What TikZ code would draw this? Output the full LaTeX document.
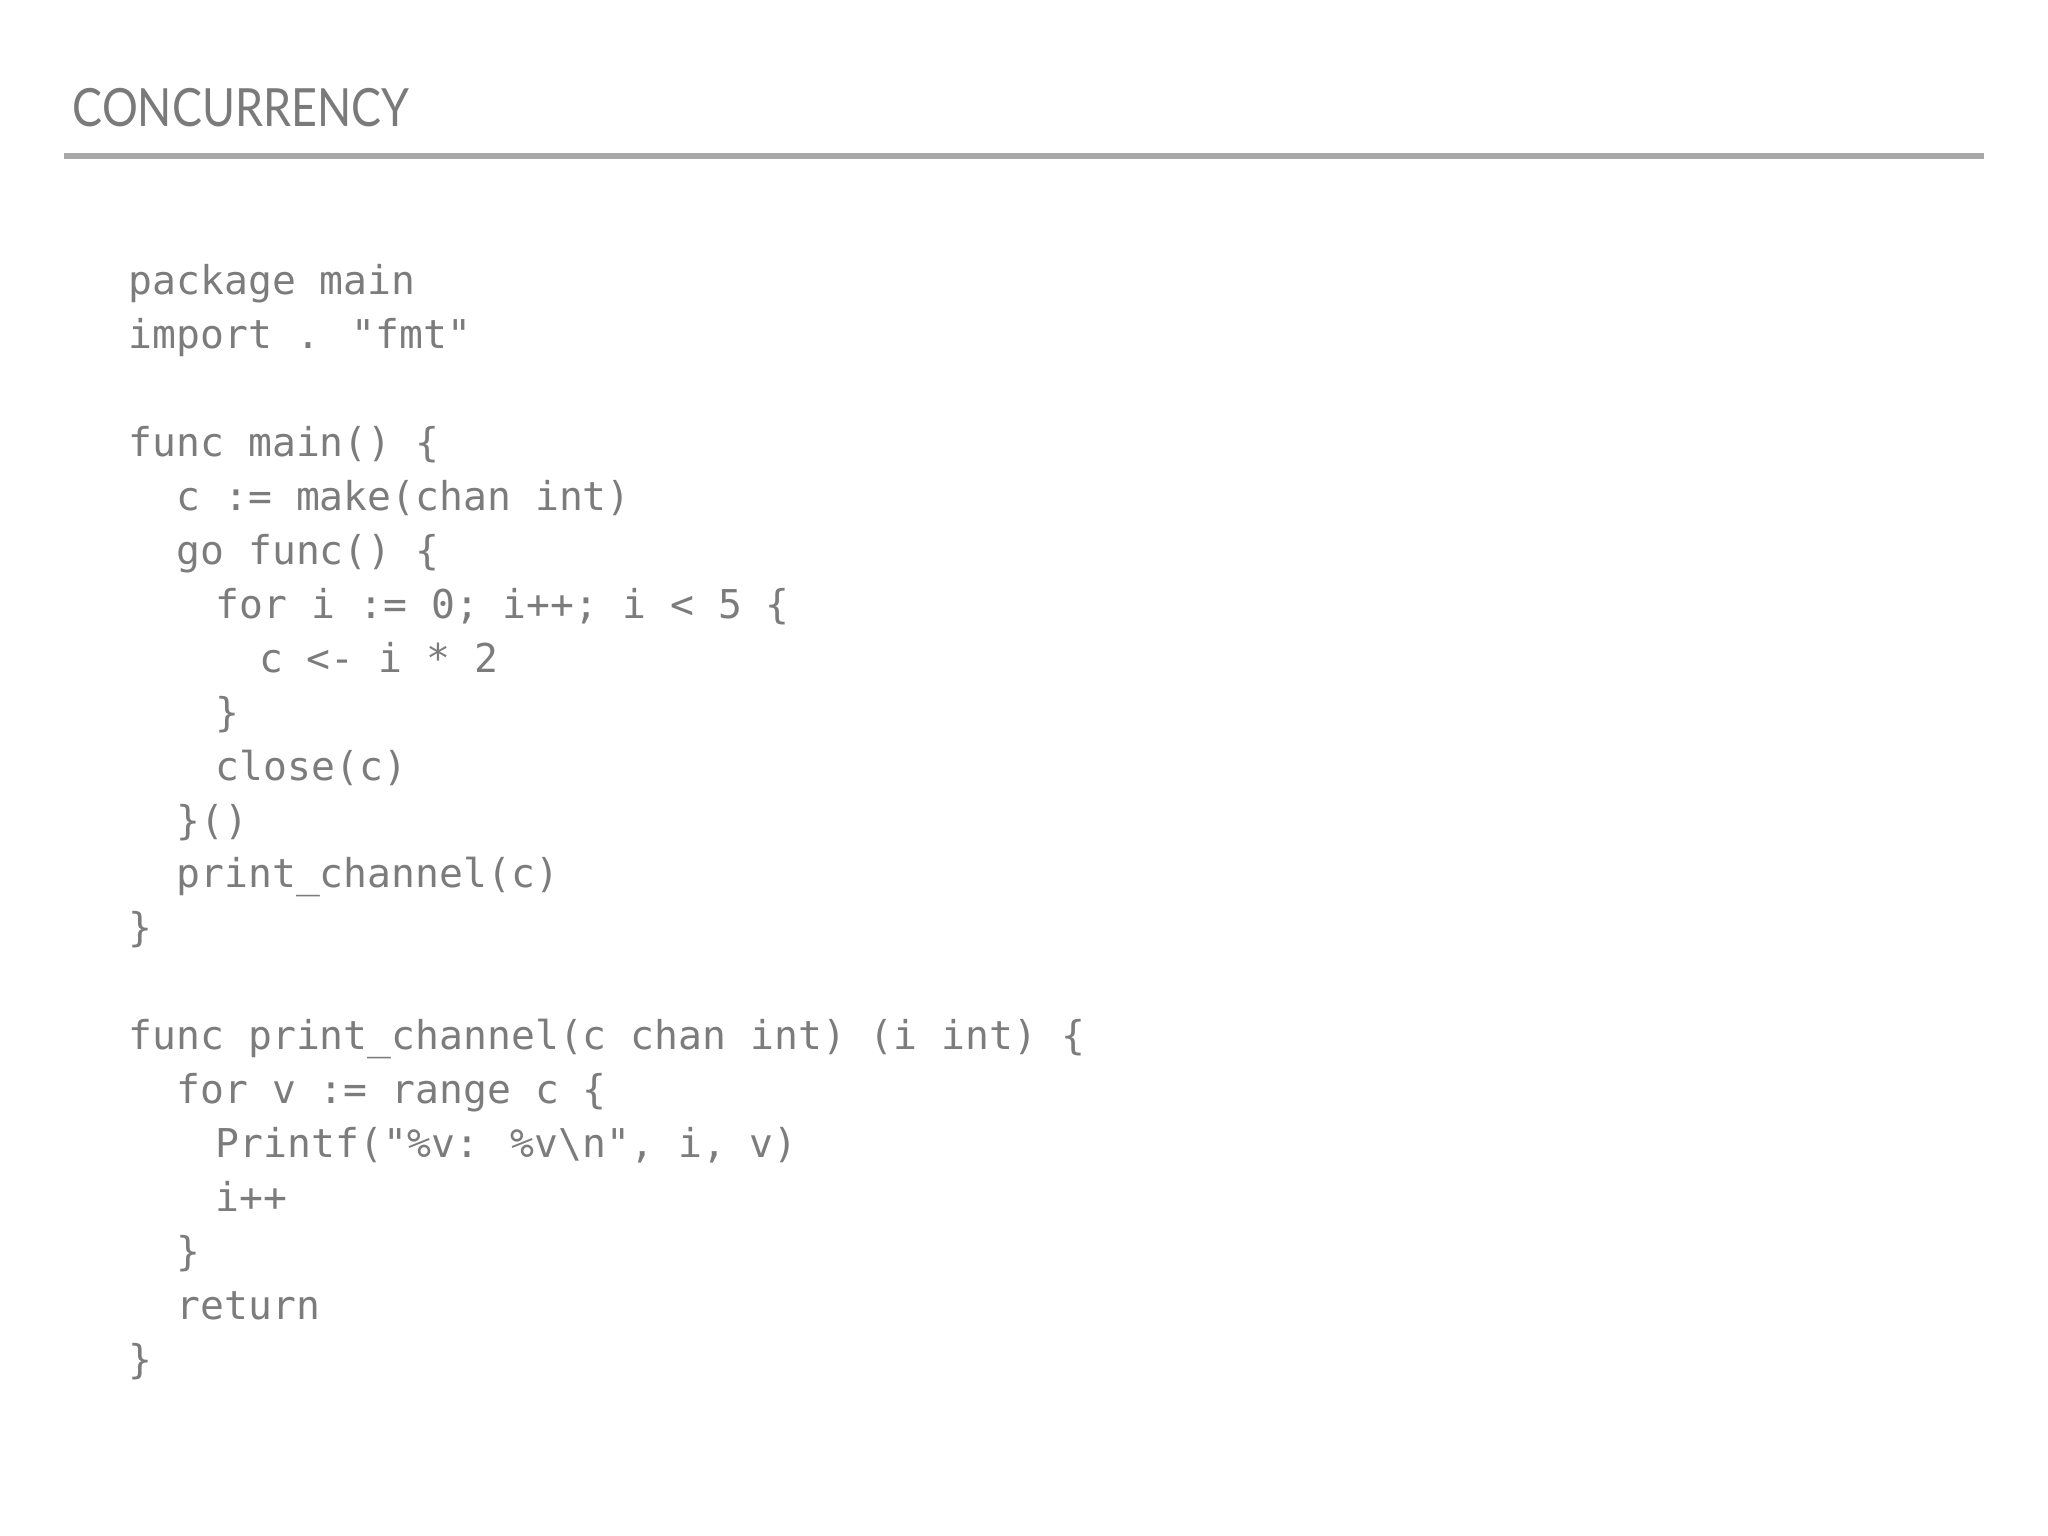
\documentclass[tikz,border=0pt]{standalone}
\usepackage{fontspec}
\setmainfont{Lato}
\newfontfamily\codefont[WordSpace={1,0,0}]{DejaVu Sans Mono}
\definecolor{titlegray}{HTML}{7A7A7A}
\definecolor{rulegray}{HTML}{A8A8A8}
\definecolor{codegray}{HTML}{7C7C7C}
\begin{document}
\begin{tikzpicture}[x=1cm,y=1cm,
  codeline/.style={anchor=base west,inner sep=0pt,text=codegray,font=\codefont\fontsize{11.3pt}{13pt}\selectfont},
  titletext/.style={anchor=base west,inner sep=0pt,text=titlegray,font=\fontsize{15pt}{18pt}\selectfont}]
\useasboundingbox (0,0) rectangle (20.48,-15.36);
\node[titletext] (title) at (0.72,-1.27) {\scalebox{0.85}[1]{CONCURRENCY}};
\coordinate (rl) at (0.64,-1.56);
\coordinate (rr) at (19.84,-1.56);
\draw[rulegray,line width=1.6pt] (rl) -- (rr);
\def\L#1#2#3{\node[codeline] (#1) at (1.28,{-2.95-0.539*#2}) {#3};}
\def\I#1{\hspace*{#1\fontcharwd\font`0}}
\L{l0}{0}{package main}
\L{l1}{1}{import . "fmt"}
\L{l3}{3}{func main() \{}
\L{l4}{4}{\I{2}c := make(chan int)}
\L{l5}{5}{\I{2}go func() \{}
\L{l6}{6}{\I{3.65}for i := 0; i++; i < 5 \{}
\L{l7}{7}{\I{5.45}c <- i * 2}
\L{l8}{8}{\I{3.65}\}}
\L{l9}{9}{\I{3.65}close(c)}
\L{l10}{10}{\I{2}\}()}
\L{l11}{11}{\I{2}print\_channel(c)}
\L{l12}{12}{\}}
\L{l14}{14}{func print\_channel(c chan int) (i int) \{}
\L{l15}{15}{\I{2}for v := range c \{}
\L{l16}{16}{\I{3.65}Printf("\%v: \%v\textbackslash n", i, v)}
\L{l17}{17}{\I{3.65}i++}
\L{l18}{18}{\I{2}\}}
\L{l19}{19}{\I{2}return}
\L{l20}{20}{\}}
\end{tikzpicture}
\end{document}
